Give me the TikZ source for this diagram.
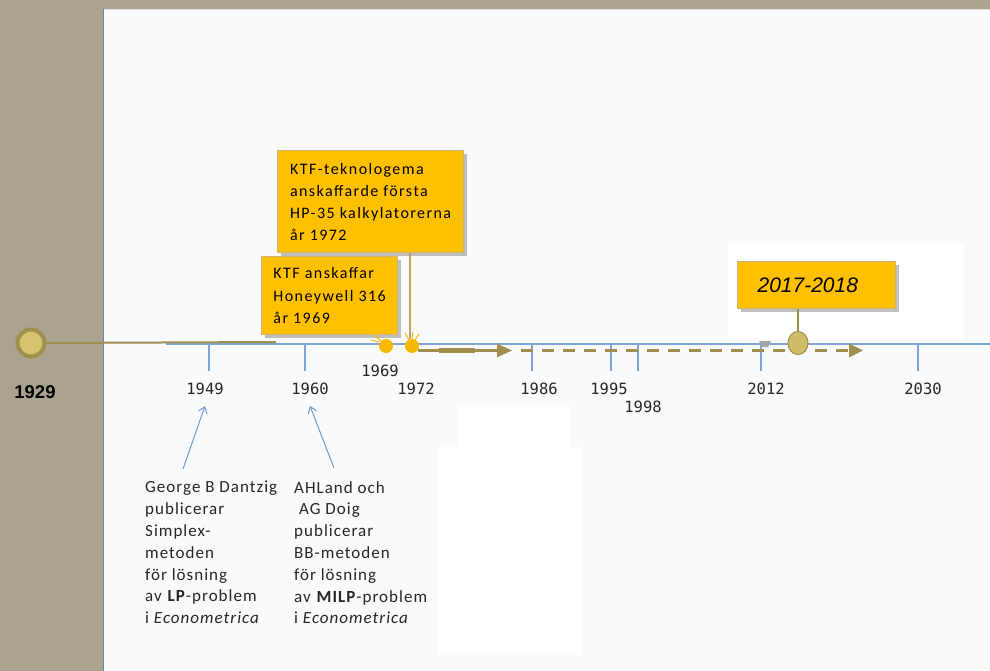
\documentclass[tikz,border=0pt]{standalone}
\usepackage{fontspec}
\usetikzlibrary{shadows,arrows.meta,shapes.geometric}
\newfontfamily\boxfont{Carlito}[LetterSpace=9]
\newfontfamily\descfont{Carlito}[LetterSpace=6]
\newfontfamily\yearfont{DejaVu Sans Mono}
\newfontfamily\arialfont{Liberation Sans}
\definecolor{bg}{HTML}{ABA38D}
\definecolor{panel}{HTML}{F9FAFB}
\definecolor{tlblue}{HTML}{7EA5D6}
\definecolor{olive}{HTML}{A08E4C}
\definecolor{oliveL}{HTML}{D5C26C}
\definecolor{linkc}{HTML}{BFA55C}
\definecolor{gold}{HTML}{FFC000}
\definecolor{goldedge}{HTML}{CDB472}
\definecolor{dotc}{HTML}{F6B900}
\definecolor{arrowblue}{HTML}{6E9AD0}
\begin{document}
\begin{tikzpicture}[x=1pt,y=-1pt,
  goldbox/.style={draw=goldedge, line width=1.2pt, fill=gold, anchor=north west,
    drop shadow={shadow xshift=3pt, shadow yshift=-3pt, opacity=0.4, fill=black!60},
    align=left, inner xsep=10pt, inner ysep=0pt, text=black},
  yearlbl/.style={anchor=base, inner sep=0pt, font=\yearfont\fontsize{15.5}{18}\selectfont, text=black!85},
  tick/.style={draw=tlblue, line width=1.2pt},
  desc/.style={anchor=north west, align=left, inner sep=0pt, font=\descfont\fontsize{17}{21.8}\selectfont, text=black!85},
  bluearrow/.style={draw=arrowblue, line width=1pt, -{Straight Barb[length=6pt,width=9pt]}},
  smalldot/.style={circle, fill=dotc, minimum size=14pt, inner sep=0pt},
  linkline/.style={draw=linkc, line width=1.5pt},
  ray/.style={draw=dotc, line width=1pt}
]
\useasboundingbox (0,0) rectangle (990,671);
% background
\fill[bg] (0,0) rectangle (990,671);
\fill[panel] (103,9) rectangle (990,671);
\fill[white] (728,243) rectangle (964,340);
\fill[white] (457,405) rectangle (570,450);
\fill[white] (438,447) rectangle (582,655);
\draw[black!15, line width=1pt] (103,9.5) -- (990,9.5);
\draw[tlblue!80!black, line width=1.5pt] (103.5,9) -- (103.5,671);

% timeline
\draw[tlblue, line width=1.5pt] (166,344) -- (990,344);
\node[circle, draw=olive, line width=4pt, fill=oliveL, minimum size=27pt, inner sep=0pt] (c1929) at (31,343) {};
\coordinate (oend) at (276,342);
\draw[olive, line width=2pt] (c1929.east) -- (oend);
\node[anchor=base, inner sep=0pt, font=\arialfont\bfseries\fontsize{18.5}{20}\selectfont] (y1929) at (35,398) {1929};

% ticks
\foreach \x/\n in {209/t1,305/t2,532/t3,611/t4,638/t5,761/t6,918/t7}{
  \coordinate (\n a) at (\x,344);
  \coordinate (\n b) at (\x,371);
  \draw[tick] (\n a) -- (\n b);
}

% year labels
\node[yearlbl] (y1949) at (205,394) {1949};
\node[yearlbl] (y1960) at (310,394) {1960};
\node[yearlbl] (y1969) at (380,376) {1969};
\node[yearlbl] (y1972) at (416,394) {1972};
\node[yearlbl] (y1986) at (539,394) {1986};
\node[yearlbl] (y1995) at (609,394) {1995};
\node[yearlbl] (y1998) at (643,412) {1998};
\node[yearlbl] (y2012) at (766,394) {2012};
\node[yearlbl] (y2030) at (923,394) {2030};

% gold boxes
\node[goldbox, minimum width=186pt, minimum height=102pt, font=\boxfont\fontsize{16}{22}\selectfont] (b1) at (277,150)
  {KTF-teknologema\\anskaffarde första\\HP-35 kalkylatorerna\\år 1972};
\node[goldbox, minimum width=136pt, minimum height=78pt, font=\boxfont\fontsize{16}{22.5}\selectfont] (b2) at (261,256)
  {KTF anskaffar\\Honeywell 316\\år 1969};
\node[goldbox, text width=118pt, minimum height=47pt, inner xsep=20pt, font=\arialfont\itshape\fontsize{21}{24}\selectfont] (b3) at (737,261)
  {2017-2018};

% small dots
\node[smalldot] (d1) at (386,346) {};
\node[smalldot] (d2) at (412,346) {};
\draw[ray] (373,334) -- (381,341);
\draw[ray] (371,340) -- (379,342);
\draw[ray] (405,333) -- (409,340);
\draw[ray] (413,332) -- (412,339);
\draw[ray] (419,334) -- (415,340);
\draw[linkline] (b1.south -| 410,0) -- (d2.north -| 410,0);

% solid arrow
\coordinate (arrS) at (418,350.5);
\coordinate (arrE) at (512,350.5);
\draw[olive, line width=2.2pt, -{Triangle[length=15pt,width=13pt]}] (arrS) -- (arrE);
\draw[olive, line width=5pt] (439,350.5) -- (475,350.5);

% dashed arrow
\coordinate (dashS) at (521,350.5);
\coordinate (dashE) at (863,350.5);
\draw[olive, line width=3pt, dash pattern=on 12pt off 9pt, -{Triangle[length=14pt,width=13pt]}] (dashS) -- (dashE);

% gray marker
\fill[black!35] (759,341) -- (771,341) -- (768,347) -- (762,347) -- cycle;

% big circle 2017
\node[ellipse, draw=olive, line width=1pt, fill=oliveL!90!olive, minimum width=20pt, minimum height=23pt, inner sep=0pt] (c2017) at (798,343) {};
\draw[olive, line width=1.5pt] (b3.south -| c2017.north) -- (c2017.north);

% descriptions
\node[desc] (desc1) at (145,481)
  {George B Dantzig\\publicerar\\Simplex-\\metoden\\för lösning\\av \textbf{LP}-problem\\i \textit{Econometrica}};
\node[desc] (desc2) at (294,481)
  {AHLand och\\\ AG Doig\\publicerar\\BB-metoden\\för lösning\\av \textbf{MILP}-problem\\i \textit{Econometrica}};

% blue arrows
\coordinate (a1s) at (183,469);
\coordinate (a1e) at (205,406);
\coordinate (a2s) at (334,468);
\coordinate (a2e) at (310,406);
\draw[bluearrow] (a1s) -- (a1e);
\draw[bluearrow] (a2s) -- (a2e);
\end{tikzpicture}
\end{document}
